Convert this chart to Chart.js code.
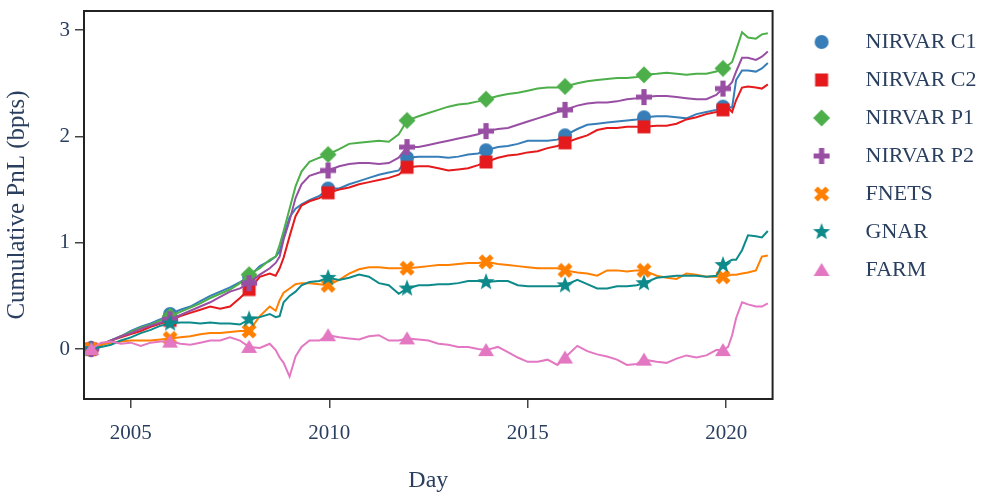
<!DOCTYPE html>
<html>
<head>
<meta charset="utf-8">
<script src="https://cdn.jsdelivr.net/npm/chart.js@4.4.1/dist/chart.umd.min.js"></script>
<style>
  html, body { margin: 0; padding: 0; background: #fff; }
  #wrap { width: 997px; height: 499px; }
</style>
</head>
<body>
<div id="wrap"><canvas id="pnlChart" width="997" height="499"></canvas></div>
<script>
const days = [
  2004.00, 2004.25, 2004.50, 2004.75, 2005.00, 2005.25, 2005.50, 2005.75, 2005.99, 2006.25,
  2006.50, 2006.75, 2007.00, 2007.25, 2007.50, 2007.75, 2007.98, 2008.25, 2008.50, 2008.65,
  2008.75, 2008.85, 2009.00, 2009.15, 2009.30, 2009.50, 2009.75, 2009.97, 2010.25, 2010.50,
  2010.75, 2011.00, 2011.25, 2011.50, 2011.75, 2011.96, 2012.25, 2012.50, 2012.75, 2013.00,
  2013.25, 2013.50, 2013.75, 2013.95, 2014.25, 2014.50, 2014.75, 2015.00, 2015.25, 2015.50,
  2015.75, 2015.94, 2016.25, 2016.50, 2016.75, 2017.00, 2017.25, 2017.50, 2017.75, 2017.93,
  2018.25, 2018.50, 2018.75, 2019.00, 2019.25, 2019.50, 2019.75, 2019.92, 2020.05, 2020.15,
  2020.25, 2020.40, 2020.55, 2020.75, 2020.90, 2021.05
];

// Cumulative PnL (bpts) per model
const nirvarC1 = [
  0, .04, .08, .12, .17, .21, .24, .28, .33, .37, .40, .45, .50, .54, .58, .63, .68, .78, .83, .87,
  .92, 1.06, 1.24, 1.32, 1.36, 1.40, 1.44, 1.51, 1.51, 1.55, 1.58, 1.61, 1.64, 1.66, 1.68, 1.80, 1.81, 1.81, 1.81, 1.80,
  1.81, 1.83, 1.84, 1.87, 1.90, 1.91, 1.93, 1.96, 1.96, 1.96, 1.97, 2.01, 2.07, 2.11, 2.12, 2.13, 2.14, 2.15, 2.16, 2.18,
  2.19, 2.19, 2.18, 2.17, 2.21, 2.23, 2.25, 2.28, 2.28, 2.27, 2.53, 2.62, 2.62, 2.61, 2.64, 2.69
];
const nirvarC2 = [
  0, .04, .08, .11, .14, .17, .21, .24, .27, .31, .34, .37, .40, .38, .40, .48, .56, .68, .71, .69,
  .76, .86, 1.06, 1.25, 1.35, 1.39, 1.42, 1.47, 1.50, 1.52, 1.55, 1.57, 1.59, 1.61, 1.64, 1.71, 1.72, 1.72, 1.70, 1.68,
  1.69, 1.70, 1.73, 1.76, 1.80, 1.82, 1.83, 1.85, 1.86, 1.89, 1.91, 1.94, 1.98, 2.01, 2.06, 2.08, 2.08, 2.09, 2.09, 2.09,
  2.10, 2.10, 2.12, 2.16, 2.18, 2.21, 2.23, 2.25, 2.27, 2.23, 2.34, 2.46, 2.47, 2.46, 2.45, 2.49
];
const nirvarP1 = [
  0, .04, .08, .12, .16, .20, .23, .27, .31, .35, .39, .43, .48, .52, .56, .62, .70, .76, .84, .87,
  .98, 1.11, 1.32, 1.53, 1.67, 1.76, 1.80, 1.83, 1.88, 1.93, 1.94, 1.95, 1.96, 1.95, 2.02, 2.15, 2.19, 2.22, 2.25, 2.28,
  2.30, 2.31, 2.33, 2.35, 2.38, 2.40, 2.41, 2.43, 2.45, 2.46, 2.46, 2.47, 2.50, 2.52, 2.53, 2.54, 2.55, 2.55, 2.56, 2.58,
  2.59, 2.60, 2.59, 2.58, 2.59, 2.59, 2.61, 2.64, 2.67, 2.70, 2.81, 2.98, 2.93, 2.92, 2.96, 2.97
];
const nirvarP2 = [
  0, .04, .08, .12, .15, .19, .22, .25, .28, .32, .36, .40, .44, .49, .54, .57, .62, .70, .76, .81,
  .87, 1.03, 1.21, 1.42, 1.55, 1.63, 1.66, 1.68, 1.72, 1.74, 1.75, 1.75, 1.74, 1.75, 1.80, 1.90, 1.90, 1.92, 1.94, 1.96,
  1.98, 2.00, 2.02, 2.05, 2.07, 2.08, 2.11, 2.14, 2.17, 2.20, 2.23, 2.25, 2.29, 2.31, 2.32, 2.32, 2.33, 2.35, 2.36, 2.37,
  2.38, 2.38, 2.37, 2.36, 2.35, 2.35, 2.39, 2.45, 2.47, 2.51, 2.61, 2.74, 2.74, 2.72, 2.75, 2.80
];
const fnets = [
  0, .04, .06, .07, .08, .08, .08, .09, .10, .11, .12, .14, .15, .15, .16, .17, .17, .31, .40, .36,
  .46, .53, .57, .61, .62, .62, .61, .60, .65, .71, .75, .77, .77, .76, .76, .76, .77, .78, .79, .79,
  .80, .81, .81, .82, .80, .79, .78, .77, .76, .76, .76, .74, .72, .71, .69, .74, .74, .73, .74, .74,
  .69, .67, .66, .71, .70, .68, .68, .68, .69, .70, .70, .71, .72, .74, .87, .88
];
const gnar = [
  0, .02, .04, .08, .11, .15, .18, .22, .24, .25, .25, .24, .25, .24, .24, .23, .28, .30, .33, .30,
  .31, .44, .50, .54, .60, .63, .64, .67, .65, .67, .70, .68, .62, .60, .52, .57, .60, .60, .61, .61,
  .62, .64, .64, .63, .64, .64, .60, .59, .59, .59, .59, .60, .65, .61, .57, .57, .59, .59, .60, .62,
  .67, .68, .69, .69, .69, .68, .69, .79, .82, .84, .84, .93, 1.07, 1.06, 1.05, 1.11
];
const farm = [
  0, .06, .07, .05, .06, .03, .06, .07, .07, .05, .04, .06, .08, .08, .11, .08, .02, .01, .05, -.01,
  -.08, -.13, -.26, -.07, .02, .08, .08, .13, .11, .10, .09, .12, .13, .08, .08, .10, .09, .08, .05, .04,
  .02, .02, 0, -.01, .02, -.03, -.08, -.12, -.12, -.10, -.15, -.08, .03, -.02, -.05, -.07, -.10, -.15, -.14, -.10,
  -.12, -.13, -.09, -.06, -.08, -.06, -.01, -.01, .02, .13, .29, .44, .42, .40, .40, .43
];

const seriesNames = ['NIRVAR C1', 'NIRVAR C2', 'NIRVAR P1', 'NIRVAR P2', 'FNETS', 'GNAR', 'FARM'];
const seriesValues = [nirvarC1, nirvarC2, nirvarP1, nirvarP2, fnets, gnar, farm];
const xTicks = [2005, 2010, 2015, 2020];
const yTicks = [0, 1, 2, 3];
// samples that carry a marker (every ~2 years)
const markerIdx = [0, 8, 16, 27, 35, 43, 51, 59, 67];

const colors = ['#377eb8', '#e41a1c', '#4daf4a', '#984ea3', '#ff7f00', '#0e8a8a', '#e377c2'];
const shapes = ['circle', 'square', 'diamond', 'plus', 'x', 'star', 'triangle'];

const TEXT = '#2a3f5f';
const FONT = "'Liberation Serif', 'Times New Roman', serif";

// Draw a filled marker on a small canvas, used as pointStyle
function markerCanvas(shape, color) {
  const c = document.createElement('canvas');
  c.width = 20; c.height = 20;
  const g = c.getContext('2d');
  g.fillStyle = color;
  g.translate(10, 10);
  g.beginPath();
  if (shape === 'circle') {
    g.arc(0, 0, 7, 0, Math.PI * 2);
  } else if (shape === 'square') {
    g.rect(-6.5, -6.5, 13, 13);
  } else if (shape === 'diamond') {
    g.moveTo(0, -8.5); g.lineTo(8.5, 0); g.lineTo(0, 8.5); g.lineTo(-8.5, 0); g.closePath();
  } else if (shape === 'plus' || shape === 'x') {
    if (shape === 'x') g.rotate(Math.PI / 4);
    g.rect(-8, -2.6, 16, 5.2);
    g.rect(-2.6, -8, 5.2, 16);
  } else if (shape === 'star') {
    for (let k = 0; k < 10; k++) {
      const r = k % 2 ? 3.8 : 9;
      const a = -Math.PI / 2 + k * Math.PI / 5;
      g.lineTo(r * Math.cos(a), r * Math.sin(a));
    }
    g.closePath();
  } else if (shape === 'triangle') {
    g.moveTo(0, -7); g.lineTo(8, 6); g.lineTo(-8, 6); g.closePath();
  }
  g.fill();
  return c;
}

// Box around the plotting area
const framePlugin = {
  id: 'frame',
  afterDraw(chart) {
    const { ctx, chartArea: a } = chart;
    ctx.save();
    ctx.strokeStyle = '#222';
    ctx.lineWidth = 2;
    ctx.strokeRect(a.left, a.top, a.right - a.left, a.bottom - a.top);
    ctx.restore();
  }
};

function initPnlChart() {
  const ctx = document.getElementById('pnlChart').getContext('2d');
  const datasets = seriesValues.map((vals, i) => ({
    label: seriesNames[i],
    data: days.map((d, k) => ({ x: d, y: vals[k] })),
    borderColor: colors[i],
    backgroundColor: colors[i],
    borderWidth: 2,
    pointStyle: markerCanvas(shapes[i], colors[i]),
    pointRadius: c => markerIdx.includes(c.dataIndex) ? 8 : 0,
    pointHoverRadius: 0,
    tension: 0,
    order: -i
  }));

  new Chart(ctx, {
    type: 'line',
    data: { datasets },
    plugins: [framePlugin],
    options: {
      responsive: false,
      animation: false,
      events: [],
      layout: { padding: { top: 11, right: 10.5, bottom: 0, left: 0 } },
      scales: {
        x: {
          type: 'linear',
          min: 2003.82,
          max: 2021.17,
          afterBuildTicks: s => { s.ticks = xTicks.map(v => ({ value: v })); },
          afterFit: s => { s.height = 100; },
          grid: { drawOnChartArea: false, tickLength: 9, color: '#444', lineWidth: 1.5 },
          border: { display: false },
          ticks: { color: TEXT, font: { family: FONT, size: 21 }, padding: 13, maxRotation: 0, callback: v => String(v) },
          title: { display: true, text: 'Day', color: TEXT, font: { family: FONT, size: 24 }, padding: { top: 0, bottom: 4 } }
        },
        y: {
          min: -0.47,
          max: 3.18,
          afterBuildTicks: s => { s.ticks = yTicks.map(v => ({ value: v })); },
          afterFit: s => { s.width = 84; s.paddingTop = 0; s.paddingBottom = 0; },
          grid: { drawOnChartArea: false, tickLength: 9, color: '#444', lineWidth: 1.5 },
          border: { display: false },
          ticks: { color: TEXT, font: { family: FONT, size: 21 }, padding: 5 },
          title: { display: true, text: 'Cumulative PnL (bpts)', color: TEXT, font: { family: FONT, size: 25 }, padding: { top: 2, bottom: 0 } }
        }
      },
      plugins: {
        tooltip: { enabled: false },
        legend: {
          position: 'right',
          align: 'start',
          title: { display: true, text: ' ', font: { size: 4, lineHeight: 1 }, padding: 0 },
          labels: {
            usePointStyle: true,
            pointStyleWidth: 66,
            padding: 16,
            color: TEXT,
            font: { family: FONT, size: 22 },
            sort: (a, b) => a.datasetIndex - b.datasetIndex
          }
        }
      }
    }
  });
}

window.addEventListener('load', initPnlChart);
</script>
</body>
</html>
